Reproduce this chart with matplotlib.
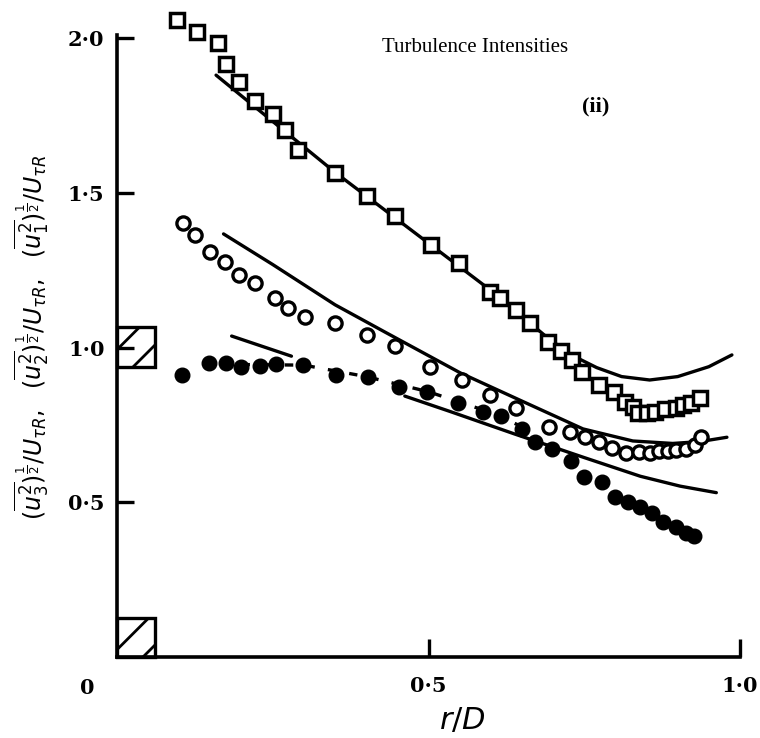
import matplotlib
matplotlib.use('Agg')
import matplotlib.pyplot as plt
import numpy as np
from matplotlib.patches import Rectangle

# measured data, read off the scanned figure
# squares: (u1^2)^1/2 / U_tauR
u1_x = [0.096, 0.128, 0.162, 0.175, 0.196, 0.222, 0.251, 0.270, 0.291, 0.350,
        0.401, 0.446, 0.504, 0.549, 0.599, 0.615, 0.641, 0.663, 0.692, 0.712,
        0.730, 0.746, 0.774, 0.797, 0.815, 0.829, 0.837, 0.850, 0.864, 0.880,
        0.897, 0.909, 0.922, 0.936]
u1_y = [2.058, 2.020, 1.983, 1.915, 1.859, 1.797, 1.754, 1.703, 1.638, 1.565,
        1.490, 1.425, 1.331, 1.272, 1.180, 1.159, 1.121, 1.080, 1.019, 0.989,
        0.960, 0.922, 0.879, 0.857, 0.825, 0.809, 0.787, 0.787, 0.793, 0.800,
        0.803, 0.814, 0.822, 0.836]

# open circles: (u2^2)^1/2 / U_tauR
u2_x = [0.106, 0.125, 0.149, 0.173, 0.196, 0.222, 0.254, 0.275, 0.302, 0.350,
        0.402, 0.447, 0.502, 0.553, 0.599, 0.641, 0.693, 0.727, 0.751, 0.773,
        0.794, 0.817, 0.838, 0.856, 0.870, 0.885, 0.898, 0.913, 0.928, 0.937]
u2_y = [1.401, 1.363, 1.308, 1.277, 1.234, 1.207, 1.159, 1.127, 1.099, 1.080,
        1.040, 1.004, 0.938, 0.895, 0.847, 0.803, 0.744, 0.728, 0.710, 0.696,
        0.674, 0.660, 0.663, 0.660, 0.666, 0.667, 0.669, 0.672, 0.685, 0.710]

# filled circles: (u3^2)^1/2 / U_tauR
u3_x = [0.104, 0.147, 0.175, 0.199, 0.229, 0.256, 0.298, 0.352, 0.403, 0.453,
        0.497, 0.548, 0.588, 0.617, 0.650, 0.671, 0.698, 0.728, 0.749, 0.778,
        0.799, 0.821, 0.840, 0.858, 0.877, 0.898, 0.914, 0.926]
u3_y = [0.911, 0.951, 0.951, 0.938, 0.940, 0.947, 0.943, 0.911, 0.906, 0.873,
        0.857, 0.822, 0.793, 0.780, 0.736, 0.696, 0.671, 0.634, 0.582, 0.566,
        0.516, 0.502, 0.486, 0.464, 0.437, 0.421, 0.402, 0.391]

# predicted curves (solid) and the dashed fit through the filled circles
c1_x = [0.159, 0.350, 0.504, 0.599, 0.692, 0.730, 0.770, 0.810, 0.855, 0.900, 0.950, 0.987]
c1_y = [1.880, 1.566, 1.331, 1.186, 1.030, 0.975, 0.935, 0.906, 0.895, 0.906, 0.938, 0.976]
c2_x = [0.171, 0.250, 0.350, 0.430, 0.551, 0.652, 0.748, 0.828, 0.892, 0.936, 0.979]
c2_y = [1.367, 1.268, 1.138, 1.050, 0.918, 0.825, 0.737, 0.698, 0.690, 0.696, 0.710]
c3a_x = [0.184, 0.280]
c3a_y = [1.037, 0.972]
c3b_x = [0.462, 0.535, 0.639, 0.749, 0.840, 0.904, 0.962]
c3b_y = [0.843, 0.793, 0.720, 0.645, 0.584, 0.552, 0.531]
fit3_x = [0.20, 0.30, 0.40, 0.50, 0.60, 0.66]
fit3_y = [0.945, 0.943, 0.906, 0.857, 0.790, 0.735]

yticks = [0.5, 1.0, 1.5, 2.0]
ytick_labels = ['0·5', '1·0', '1·5', '2·0']
xticks = [0.5, 1.0]
xtick_labels = ['0·5', '1·0']

W, H = 760, 738
fig = plt.figure(figsize=(7.6, 7.38), dpi=100)
# axes placed so that x=0 sits at px 117, y=0 at px 657
ax = fig.add_axes([117 / W, 1 - 657 / H, 1 - 117 / W, 657 / H])
ax.set_xlim(0, (W - 117) / 623.0)
ax.set_ylim(0, 657 / 309.5)
ax.patch.set_alpha(0)

lw = 2.4
ax.plot(c1_x, c1_y, color='black', linewidth=lw, solid_capstyle='round')
ax.plot(c2_x, c2_y, color='black', linewidth=lw, solid_capstyle='round')
ax.plot(c3a_x, c3a_y, color='black', linewidth=lw, solid_capstyle='round')
ax.plot(c3b_x, c3b_y, color='black', linewidth=lw, solid_capstyle='round')
ax.plot(fit3_x, fit3_y, color='black', linewidth=lw, linestyle=(0, (2.5, 4)))

ax.plot(u1_x, u1_y, linestyle='none', marker='s', markersize=10.5, markeredgewidth=2.5,
        markerfacecolor='white', markeredgecolor='black', clip_on=False)
ax.plot(u2_x, u2_y, linestyle='none', marker='o', markersize=9.5, markeredgewidth=2.4,
        markerfacecolor='white', markeredgecolor='black', clip_on=False)
ax.plot(u3_x, u3_y, linestyle='none', marker='o', markersize=10.5,
        markerfacecolor='black', markeredgecolor='black', clip_on=False)

# hatched boxes on the y axis
plt.rcParams['hatch.linewidth'] = 2.0
ax.add_patch(Rectangle((0, 0.937), 0.061, 0.129, facecolor='white', edgecolor='black',
                       linewidth=2.4, hatch='/', clip_on=False))
ax.add_patch(Rectangle((0, 0), 0.061, 0.126, facecolor='white', edgecolor='black',
                       linewidth=2.4, hatch='/', clip_on=False))

for s in ['top', 'right']:
    ax.spines[s].set_visible(False)
ax.spines['left'].set_bounds(0, 2.01)
ax.spines['bottom'].set_bounds(0, 1.0)
ax.spines['left'].set_linewidth(2.6)
ax.spines['bottom'].set_linewidth(2.6)

tick_font = dict(family='DejaVu Serif', weight='bold', size=15)
ax.set_yticks(yticks)
ax.set_yticklabels(ytick_labels, fontdict=tick_font)
ax.set_xticks(xticks)
ax.set_xticklabels(xtick_labels, fontdict=tick_font)
ax.tick_params(axis='y', direction='in', length=12, width=2.4, pad=9)
ax.tick_params(axis='x', direction='in', length=13, width=2.4, pad=14)
ax.text(-0.048, -0.1, '0', ha='center', va='center', **tick_font)

fig.text(475 / W, 1 - 47 / H, 'Turbulence Intensities', family='Liberation Serif',
         fontsize=15, ha='center', va='center')
fig.text(596 / W, 1 - 106 / H, '(ii)', family='Liberation Serif', weight='bold',
         fontsize=16, ha='center', va='center')

ylab = (r'$(\overline{u_3^2})^{\frac{1}{2}}/U_{\tau R},\ \ $'
        r'$(\overline{u_2^2})^{\frac{1}{2}}/U_{\tau R},\ \ $'
        r'$(\overline{u_1^2})^{\frac{1}{2}}/U_{\tau R}$')
fig.text(32 / W, 1 - 337 / H, ylab, rotation=90, fontsize=17, ha='center', va='center')
fig.text(462 / W, 1 - 706 / H, r'$r/D$', fontsize=22, ha='center', va='top')

plt.savefig('out.png', dpi=100)
